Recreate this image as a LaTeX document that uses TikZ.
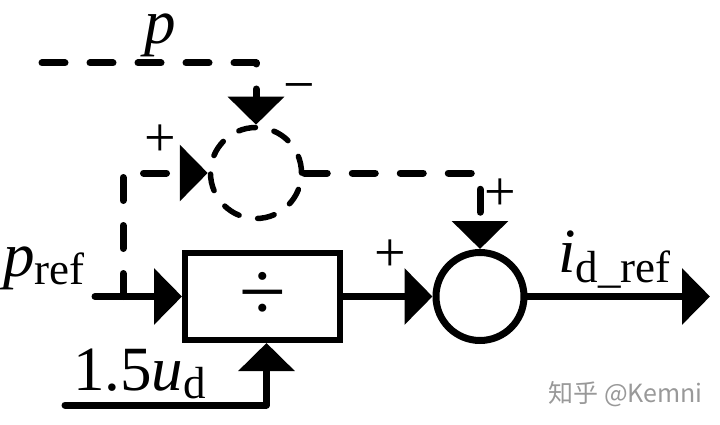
\documentclass[tikz,border=0pt]{standalone}
\usepackage{fontspec}
\setmainfont{Liberation Serif}
\newfontfamily\cjk{Noto Sans CJK SC}
\usetikzlibrary{arrows.meta,calc}
\begin{document}
\begin{tikzpicture}[x=1pt,y=-1pt,
  sig/.style={line width=7pt, line cap=round, line join=round, -{Triangle[length=28pt,width=55pt]}},
  dsig/.style={sig, dash pattern=on 23pt off 25pt},
  lbl/.style={inner sep=0pt, font=\fontsize{63}{63}\selectfont},
  sgn/.style={inner sep=0pt, font=\fontsize{56}{56}\selectfont}]
\useasboundingbox (0,0) rectangle (720,425);
% blocks
\node[circle, draw, line width=5.5pt, line cap=round, dash pattern=on 17pt off 19pt, minimum size=91pt, inner sep=0pt] (s1) at (256,173) {};
\node[circle, draw, line width=7pt, minimum size=88pt, inner sep=0pt] (s2) at (480,296.5) {};
\node[draw, line width=6pt, minimum width=155pt, minimum height=87pt, inner sep=0pt] (div) at (262.5,296.5) {};
\node[inner sep=0pt, font=\fontsize{85}{85}\selectfont] (dv) at (262.5,296.5) {÷};
% coordinates
\coordinate (pin) at (95,296.5);
\coordinate (jn) at (123,296.5);
\coordinate (ptop) at (42,63);
\coordinate (uin) at (65,405);
\coordinate (out) at (710,296.5);
% connectors
\draw[sig] (pin) -- (div.west);
\draw[dsig] (jn) |- (s1.west);
\draw[dsig] (ptop) -| (s1.north);
\draw[dsig] (s1.east) -| (s2.north);
\draw[sig] (div.east) -- (s2.west);
\draw[sig] (s2.east) -- (out);
\draw[sig] (uin) -| ([xshift=4pt]div.south);
% labels
\node[lbl, anchor=base] (lp) at (160,44) {\itshape p};
\node[lbl, anchor=base west] (lpref) at (3,276) {\itshape p\upshape\raisebox{-8pt}{\fontsize{45}{45}\selectfont ref}};
\node[lbl, anchor=base west] (lud) at (73,390) {1.5\itshape u\upshape\raisebox{-8pt}{\fontsize{45}{45}\selectfont d}};
\node[lbl, anchor=base west] (lid) at (558,272) {\itshape i\upshape\raisebox{-10pt}{\fontsize{45}{45}\selectfont d\_ref}};
\node[sgn] (p1) at (160,141) {+};
\node[sgn] (m1) at (299,94) {−};
\node[sgn] (p2) at (500,195) {+};
\node[sgn] (p3) at (390,256) {+};
\node[inner sep=0pt, anchor=east, text=black!40, font=\cjk\fontsize{25}{25}\selectfont] (wm) at (703,394) {知乎 @Kemni};
\end{tikzpicture}
\end{document}
